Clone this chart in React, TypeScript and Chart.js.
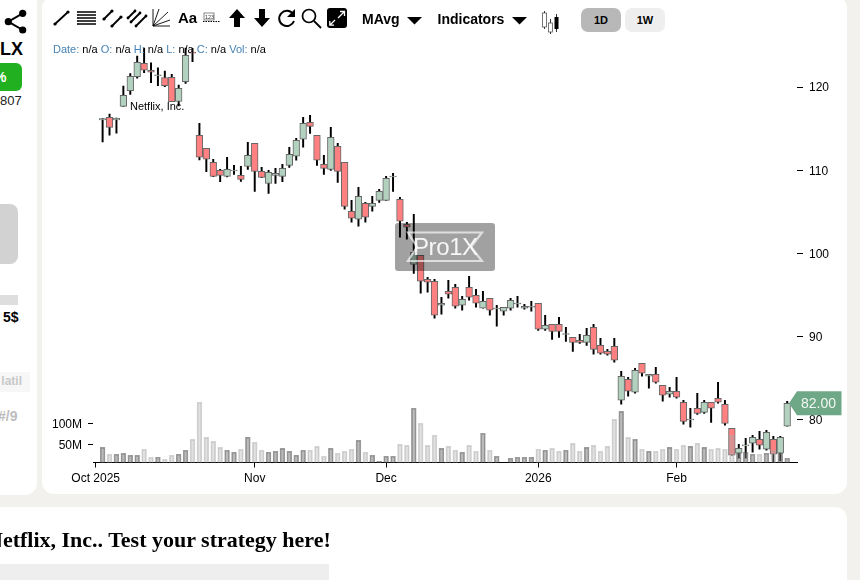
import { useEffect, useRef } from 'react';
import { Chart, registerables } from 'chart.js';

Chart.register(...registerables);

const font = '"Liberation Sans", Arial, sans-serif';

// one trading day per slot, the first candle sits in slot 1
const open = [
  116.04, 116.36, 116.04, 117.68, 119.56, 121.24, 122.85, 122.01, 121.35, 121.12,
  121.17, 118.28, 120.64, 124.2, 114.2, 112.64, 110.96, 109.99, 109.27, 109.91,
  109.39, 110.47, 113.24, 109.87, 108.43, 109.39, 109.27, 110.59, 111.68, 113.72,
  115.76, 114.2, 110.71, 110.11, 112.88, 110.96, 105.07, 104.11, 106.03, 105.67,
  106.39, 106.39, 109.19, 106.51, 103.51, 98.7, 99.78, 96.9, 96.66, 93.78,
  95.46, 95.94, 93.78, 95.94, 94.98, 93.42, 94.62, 93.33, 93.06, 93.42,
  93.93, 93.42, 93.54, 94.02, 90.9, 91.5, 91.5, 90.27, 89.93, 89.57,
  89.33, 91.14, 88.97, 88.25, 88.85, 82.37, 84.89, 83.33, 86.81, 85.25,
  85.49, 84.17, 83.09, 83.45, 82.13, 80.0, 81.41, 80.92, 82.13, 82.61,
  81.89, 79.0, 76.0, 76.88, 77.2, 77.68, 76.48, 77.68, 76.0, 79.24,
];
const high = [
  116.22, 116.76, 116.28, 120.12, 121.6, 123.72, 124.68, 122.92, 122.32, 121.92,
  121.53, 120.24, 124.68, 124.65, 115.64, 112.64, 111.32, 110.11, 111.56, 110.59,
  110.47, 113.36, 113.24, 110.35, 109.99, 110.23, 110.71, 112.76, 113.84, 116.36,
  116.6, 114.2, 111.8, 115.16, 113.24, 110.96, 106.39, 107.95, 106.15, 106.87,
  107.71, 109.27, 109.63, 106.75, 103.75, 104.71, 99.78, 97.14, 96.9, 94.74,
  96.78, 96.3, 94.86, 97.26, 95.7, 95.46, 94.62, 93.78, 93.54, 94.62,
  94.86, 93.9, 94.26, 94.02, 92.58, 91.5, 92.34, 91.14, 89.93, 90.29,
  91.02, 91.5, 89.81, 88.49, 89.81, 85.85, 85.13, 86.21, 86.81, 85.49,
  86.33, 84.17, 83.93, 85.13, 82.37, 81.41, 83.21, 82.37, 82.13, 84.53,
  82.37, 79.0, 77.08, 77.8, 78.16, 78.64, 78.76, 78.04, 78.04, 82.25,
];
const low = [
  113.39, 114.23, 114.47, 117.68, 119.12, 121.05, 121.72, 120.52, 120.16, 120.04,
  118.24, 117.72, 120.44, 123.04, 111.23, 109.83, 109.23, 108.62, 109.19, 109.51,
  108.67, 110.11, 107.47, 109.11, 107.23, 108.43, 108.62, 110.35, 111.2, 112.76,
  114.44, 110.59, 109.51, 109.99, 108.55, 105.31, 103.75, 103.27, 103.75, 105.07,
  106.15, 106.39, 107.47, 101.95, 101.71, 97.62, 95.22, 95.34, 92.22, 92.7,
  94.62, 93.42, 93.18, 94.38, 93.54, 93.42, 92.58, 91.26, 92.58, 93.18,
  93.54, 93.3, 93.06, 90.77, 90.77, 89.69, 89.93, 89.45, 88.25, 89.21,
  88.97, 87.89, 87.89, 87.77, 86.93, 81.89, 82.85, 83.21, 85.25, 83.81,
  84.41, 82.25, 82.73, 82.61, 79.48, 79.12, 80.68, 80.8, 79.72, 82.01,
  79.36, 75.76, 75.4, 75.4, 76.12, 76.48, 76.36, 74.95, 75.07, 79.24,
];
const close = [
  116.22, 115.16, 116.24, 119.0, 121.29, 122.97, 122.01, 121.77, 121.47, 120.16,
  118.24, 119.84, 123.81, 124.08, 111.56, 111.32, 109.27, 109.39, 110.11, 110.03,
  108.91, 111.8, 109.87, 109.15, 109.75, 109.63, 110.23, 111.92, 113.6, 115.64,
  115.28, 111.2, 110.23, 113.96, 109.87, 105.67, 104.23, 106.87, 104.35, 106.03,
  107.47, 109.03, 109.31, 103.87, 103.15, 100.14, 96.66, 96.54, 92.58, 94.02,
  95.1, 93.66, 94.5, 94.74, 94.02, 94.26, 93.18, 93.45, 93.54, 94.38,
  94.05, 93.66, 93.66, 90.9, 91.38, 90.65, 90.65, 90.39, 89.33, 89.33,
  90.17, 88.49, 88.01, 87.89, 87.17, 85.25, 83.45, 85.97, 85.61, 85.49,
  84.53, 82.97, 83.45, 82.73, 79.84, 80.12, 80.8, 82.13, 81.41, 82.13,
  79.6, 75.76, 76.6, 77.0, 77.92, 76.96, 78.52, 75.88, 77.92, 82.0,
];
// millions of shares
const volume = [
  44.7, 28.6, 28.6, 30.9, 26.3, 26.3, 40.1, 21.7, 21.7, 17.1,
  26.3, 28.6, 37.8, 63.1, 148.4, 67.7, 58.5, 44.7, 37.8, 33.2,
  40.1, 67.7, 56.2, 37.8, 33.2, 35.5, 42.4, 35.5, 26.3, 37.8,
  37.8, 47, 24, 42.4, 30.9, 35.5, 40.1, 60.8, 33.2, 26.3,
  12.5, 24, 24, 51.6, 49.3, 134.6, 100, 49.3, 72.4, 42.4,
  47, 37.8, 33.2, 49.3, 35.5, 77, 37.8, 24, 9, 19.4,
  21.7, 21.7, 21.7, 40.1, 37.8, 42.4, 35.5, 37.8, 53.9, 35.5,
  44.7, 49.3, 35.5, 47, 109.2, 127.6, 67.7, 63.1, 40.1, 35.5,
  35.5, 40.1, 44.7, 40.1, 49.3, 47, 53.9, 44.7, 40.1, 42.4,
  40.1, 72.4, 30.9, 33.2, 28.6, 28.6, 30.9, 37.8, 30.9, 19.4,
];

const monthSlots = [0, 23, 42, 64, 84];
const monthLabels = ['Oct 2025', 'Nov', 'Dec', '2026', 'Feb'];
const priceTicks = [80, 90, 100, 110, 120];
const volumeTicks = [50, 100];

const isUp = (i: number) => close[i] >= open[i];

const priceTag = {
  id: 'priceTag',
  afterDatasetsDraw(chart: Chart) {
    const { ctx, scales } = chart;
    const y = scales['price'].getPixelForValue(close[close.length - 1]);
    ctx.save();
    ctx.fillStyle = '#6fa886';
    ctx.beginPath();
    ctx.moveTo(789, y);
    ctx.lineTo(797, y - 12);
    ctx.lineTo(841.5, y - 12);
    ctx.lineTo(841.5, y + 12);
    ctx.lineTo(797, y + 12);
    ctx.closePath();
    ctx.fill();
    ctx.fillStyle = '#f2f7f4';
    ctx.font = `14px ${font}`;
    ctx.textAlign = 'center';
    ctx.textBaseline = 'middle';
    ctx.fillText('82.00', 818.5, y + 1);
    ctx.restore();
  },
};

function CandleChart() {
  const canvasRef = useRef<HTMLCanvasElement>(null);

  useEffect(() => {
    if (!canvasRef.current) return;
    const chart = new Chart(canvasRef.current, {
      type: 'bar',
      data: {
        datasets: [
          {
            label: 'Range',
            data: low.map((l, i) => ({ x: i + 1, y: [l, high[i]] })),
            yAxisID: 'price',
            backgroundColor: '#000',
            barThickness: 1.3,
            grouped: false,
            order: 3,
          },
          {
            label: 'Body',
            data: open.map((o, i) => ({ x: i + 1, y: [o, close[i]] })),
            yAxisID: 'price',
            backgroundColor: open.map((_, i) => (isUp(i) ? '#b2d1bf' : '#ff8080')),
            borderColor: '#666',
            borderWidth: 1,
            borderSkipped: false,
            barThickness: 6.7,
            grouped: false,
            order: 2,
          },
          {
            label: 'Volume',
            data: volume.map((v, i) => ({ x: i + 1, y: v })),
            yAxisID: 'vol',
            backgroundColor: volume.map((_, i) => (isUp(i) ? 'rgba(120,120,120,0.5)' : 'rgba(170,170,170,0.35)')),
            borderColor: volume.map((_, i) => (isUp(i) ? 'rgba(90,90,90,0.6)' : 'rgba(170,170,170,0.5)')),
            borderWidth: 1,
            borderSkipped: false,
            barThickness: 4.8,
            grouped: false,
            order: 1,
          },
        ],
      },
      options: {
        animation: false,
        responsive: false,
        layout: { padding: { top: 30, bottom: 87.5 } },
        plugins: { legend: { display: false }, tooltip: { enabled: false } },
        scales: {
          x: {
            type: 'linear',
            offset: false,
            min: -0.39,
            max: 101.42,
            grid: { offset: false, drawOnChartArea: false, color: '#000', tickLength: 5 },
            border: { color: '#000' },
            afterFit: (s: any) => { s.height = 30; },
            afterBuildTicks: (s: any) => { s.ticks = monthSlots.map((value) => ({ value })); },
            ticks: {
              autoSkip: false,
              maxRotation: 0,
              padding: 4,
              color: '#000',
              font: { family: font, size: 12 },
              callback: (v: any) => monthLabels[monthSlots.indexOf(v)],
            },
          },
          price: {
            type: 'linear',
            position: 'right',
            min: 74.89,
            max: 126.85,
            grid: { drawOnChartArea: false, color: '#000', tickLength: 6 },
            border: { display: false },
            afterFit: (s: any) => { s.width = 63; },
            afterBuildTicks: (s: any) => { s.ticks = priceTicks.map((value) => ({ value })); },
            ticks: { padding: 6, labelOffset: 1, color: '#000', font: { family: font, size: 12 } },
          },
          vol: {
            type: 'linear',
            position: 'left',
            min: 9.68,
            max: 1006,
            grid: { drawOnChartArea: false, color: '#000', tickLength: 5 },
            border: { display: false },
            afterFit: (s: any) => { s.width = 93; },
            afterBuildTicks: (s: any) => { s.ticks = volumeTicks.map((value) => ({ value })); },
            ticks: {
              padding: 6,
              labelOffset: 1,
              color: '#000',
              font: { family: font, size: 12 },
              callback: (v: any) => `${v}M`,
            },
          },
        },
      },
      plugins: [priceTag],
    });
    return () => chart.destroy();
  }, []);

  return <canvas ref={canvasRef} width={860} height={580} style={{ position: 'absolute', left: 0, top: 0 }} />;
}

function Toolbar() {
  const dot = (x: number, y: number, r = 1.6) => <circle cx={x} cy={y} r={r} fill="#000" />;
  const seg = (x1: number, y1: number, x2: number, y2: number, w = 1.8) => (
    <line x1={x1} y1={y1} x2={x2} y2={y2} stroke="#000" strokeWidth={w} />
  );
  return (
    <svg width={860} height={40} style={{ position: 'absolute', left: 0, top: 0 }}>
      {seg(55, 24, 68, 12)}{dot(55, 24)}{dot(68, 12)}
      {[12, 15, 18, 21, 24].map((y) => <g key={y}>{seg(79, y, 96, y, 1.5)}{dot(78, y, 1.1)}</g>)}
      {seg(104, 19, 112, 11)}{dot(104, 19)}{dot(112, 11)}
      {seg(112, 26, 121, 17)}{dot(112, 26)}{dot(121, 17)}
      {seg(128, 18, 135, 11)}{dot(128, 18, 1.4)}{dot(135, 11, 1.4)}
      {seg(131, 22, 140, 13)}{dot(131, 22, 1.4)}{dot(140, 13, 1.4)}
      {seg(136, 26, 146, 16)}{dot(136, 26, 1.4)}{dot(146, 16, 1.4)}
      <g stroke="#000" strokeWidth={0.9}>
        <line x1={153} y1={9} x2={153} y2={26} />
        <line x1={153} y1={26} x2={170} y2={26} />
        <line x1={153} y1={26} x2={159} y2={9} />
        <line x1={153} y1={26} x2={168} y2={12} />
        <line x1={153} y1={26} x2={170} y2={20} />
      </g>
      <text x={178} y={23} fontFamily={font} fontWeight="bold" fontSize={15}>Aa</text>
      <rect x={204} y={13} width={10} height={7} fill="none" stroke="#555" strokeWidth={0.7} />
      <text x={205} y={19} fontFamily={font} fontSize={5.5} fill="#333">123</text>
      <line x1={203} y1={21.5} x2={220} y2={21.5} stroke="#000" strokeDasharray="1.5 1" />
      <polygon points="237,9 245,18 240,18 240,27 234,27 234,18 229,18" fill="#000" />
      <polygon points="262,27 270,18 265,18 265,9 259,9 259,18 254,18" fill="#000" />
      <path d="M293 14 A7.6 7.6 0 1 0 294 21" fill="none" stroke="#000" strokeWidth={2} />
      <polygon points="295,9 295,17 287,17" fill="#000" />
      <circle cx={309} cy={16} r={6.5} fill="none" stroke="#000" strokeWidth={1.7} />
      <line x1={314} y1={21} x2={321} y2={28} stroke="#000" strokeWidth={1.8} />
      <rect x={327} y={8} width={20} height={20} rx={3} fill="#000" />
      <path d="M338 18 L344 12 M340 11.5 L344.5 11.5 L344.5 16 M335 20 L330 25 M334 25.2 L329.8 25.2 L329.8 21" stroke="#fff" strokeWidth={1.3} fill="none" />
      <text x={362} y={24} fontFamily={font} fontWeight="bold" fontSize={14}>MAvg</text>
      <polygon points="407,17 422,17 414.5,24.5" fill="#000" />
      <text x={437.5} y={24} fontFamily={font} fontWeight="bold" fontSize={14}>Indicators</text>
      <polygon points="512,17 527,17 519.5,24.5" fill="#000" />
      <g stroke="#000" strokeWidth={0.8}>
        <line x1={544.5} y1={11} x2={544.5} y2={29} />
        <line x1={550.5} y1={19} x2={550.5} y2={34} />
        <line x1={556.5} y1={14} x2={556.5} y2={32} />
      </g>
      <rect x={542.5} y={13} width={4} height={14} fill="#fff" stroke="#555" strokeWidth={0.8} />
      <rect x={548.5} y={23} width={4} height={9} fill="#fff" stroke="#555" strokeWidth={0.8} />
      <rect x={554.5} y={17} width={4} height={12} fill="#000" />
    </svg>
  );
}

function Watermark() {
  return (
    <div style={{ position: 'absolute', left: 395, top: 223, width: 100, height: 48, borderRadius: 3, background: 'rgba(0,0,0,0.37)' }}>
      <svg width={100} height={48} style={{ position: 'absolute', left: 0, top: 0 }}>
        <path d="M13 9.5 L87 9.5 L76 24 L87 38 L13 38 L22 24 Z" fill="none" stroke="rgba(255,255,255,0.65)" strokeWidth={2.2} />
      </svg>
      <span style={{ position: 'absolute', left: 18, top: 9, fontFamily: font, fontSize: 24, lineHeight: '30px', letterSpacing: -0.4, color: 'rgba(255,255,255,0.9)' }}>Pro1X</span>
    </div>
  );
}

const abs = (left: number, top: number, extra: React.CSSProperties = {}): React.CSSProperties => ({
  position: 'absolute',
  left,
  top,
  fontFamily: font,
  whiteSpace: 'pre',
  ...extra,
});

const blue = { color: '#4682b4' };

export default function App() {
  return (
    <div style={{ position: 'fixed', left: 0, top: 0, width: 860, height: 580, overflow: 'hidden', background: '#f3f1ee' }}>
      {/* cards */}
      <div style={abs(-30, -10, { width: 67, height: 505, background: '#fff', borderRadius: 12 })} />
      <div style={abs(42, -4, { width: 805, height: 498, background: '#fff', borderRadius: 12 })} />
      <div style={abs(-20, 507, { width: 867, height: 90, background: '#fff', borderRadius: 12 })} />

      {/* left panel, cut off by the page edge */}
      <svg width={30} height={36} style={{ position: 'absolute', left: 0, top: 4 }}>
        <path d="M22.7 9.3 L8.3 17.7 L22.7 26" fill="none" stroke="#000" strokeWidth={2} />
        <circle cx={22.7} cy={9.3} r={3.6} fill="#000" />
        <circle cx={8.3} cy={17.7} r={3.6} fill="#000" />
        <circle cx={22.7} cy={26} r={3.6} fill="#000" />
      </svg>
      <div style={abs(0, 39, { width: 22, textAlign: 'right', fontSize: 18, fontWeight: 'bold', lineHeight: '21px', color: '#000' })}>LX</div>
      <div style={abs(-20, 63, { width: 42, height: 28, borderRadius: 6, background: '#20b020' })} />
      <div style={abs(-6, 69, { fontSize: 14, fontWeight: 'bold', lineHeight: '16px', color: '#fff' })}>%</div>
      <div style={abs(0, 93, { width: 21.5, textAlign: 'right', fontSize: 13, lineHeight: '15px', color: '#222' })}>807</div>
      <div style={abs(-20, 204, { width: 38, height: 60, borderRadius: 8, background: '#d2d2d2' })} />
      <div style={abs(0, 295, { width: 18, height: 10, background: '#dedede' })} />
      <div style={abs(3, 309, { fontSize: 14, fontWeight: 'bold', lineHeight: '16px', color: '#000' })}>5$</div>
      <div style={abs(0, 372, { width: 30, height: 20, background: '#f7f7f7' })} />
      <div style={abs(-8, 374, { width: 30, textAlign: 'right', fontSize: 12, fontWeight: 'bold', lineHeight: '15px', color: '#c8c8c8' })}>latil</div>
      <div style={abs(-2, 408, { width: 18, textAlign: 'right', fontSize: 14, fontWeight: 'bold', lineHeight: '16px', color: '#bdbdbd' })}>#/9</div>

      <CandleChart />
      <Toolbar />

      <div style={abs(53, 43, { fontSize: 11, lineHeight: '13px', color: '#000' })}>
        <span style={blue}>Date: </span>n/a <span style={blue}>O: </span>n/a <span style={blue}>H: </span>n/a <span style={blue}>L: </span>n/a <span style={blue}>C: </span>n/a <span style={blue}>Vol: </span>n/a
      </div>
      <div style={abs(130, 100, { fontSize: 11, lineHeight: '13px', color: '#000' })}>Netflix, Inc.</div>

      <div style={abs(581, 8, { width: 40, height: 24, borderRadius: 7, background: '#b8b8b8', textAlign: 'center', fontSize: 11, fontWeight: 'bold', lineHeight: '24px' })}>1D</div>
      <div style={abs(625, 8, { width: 40, height: 24, borderRadius: 7, background: '#eeeeee', textAlign: 'center', fontSize: 11, fontWeight: 'bold', lineHeight: '24px' })}>1W</div>

      <Watermark />

      <div style={abs(-13, 527, { fontFamily: '"Liberation Serif", serif', fontSize: 22, fontWeight: 'bold', lineHeight: '25px', color: '#000' })}>Netflix, Inc.. Test your strategy here!</div>
      <div style={abs(0, 564, { width: 329, height: 16, background: '#eeeeee' })} />
    </div>
  );
}
